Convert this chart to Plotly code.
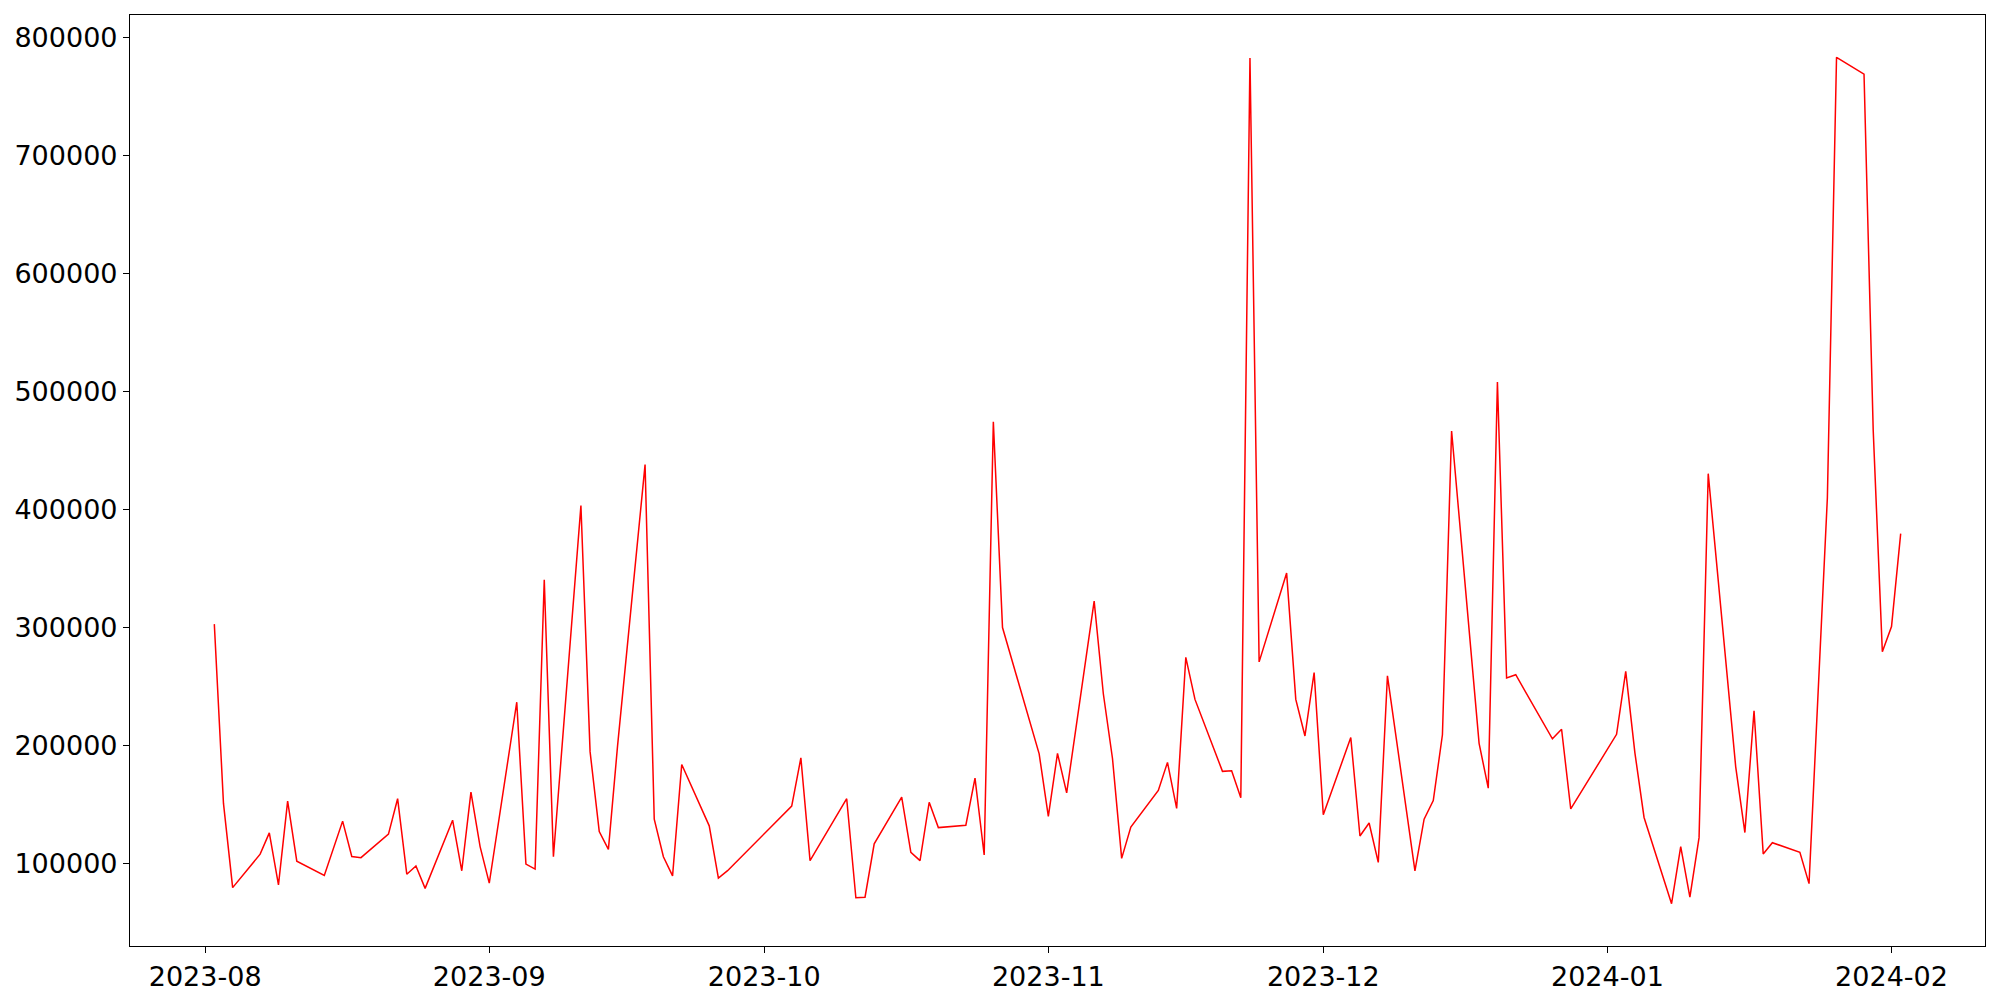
import plotly.graph_objects as go
import pandas as pd

dates = [
    "2023-08-02", "2023-08-03", "2023-08-04", "2023-08-07", "2023-08-08", "2023-08-09", "2023-08-10",
    "2023-08-11", "2023-08-14", "2023-08-16", "2023-08-17", "2023-08-18", "2023-08-21", "2023-08-22",
    "2023-08-23", "2023-08-24", "2023-08-25", "2023-08-28", "2023-08-29", "2023-08-30", "2023-08-31",
    "2023-09-01", "2023-09-04", "2023-09-05", "2023-09-06", "2023-09-07", "2023-09-08", "2023-09-11",
    "2023-09-12", "2023-09-13", "2023-09-14", "2023-09-15", "2023-09-18", "2023-09-19", "2023-09-20",
    "2023-09-21", "2023-09-22", "2023-09-25", "2023-09-26", "2023-09-27",
    "2023-10-04", "2023-10-05", "2023-10-06", "2023-10-10", "2023-10-11", "2023-10-12", "2023-10-13",
    "2023-10-16", "2023-10-17", "2023-10-18", "2023-10-19", "2023-10-20", "2023-10-23", "2023-10-24",
    "2023-10-25", "2023-10-26", "2023-10-27", "2023-10-30", "2023-10-31",
    "2023-11-01", "2023-11-02", "2023-11-03", "2023-11-06", "2023-11-07", "2023-11-08", "2023-11-09",
    "2023-11-10", "2023-11-13", "2023-11-14", "2023-11-15", "2023-11-16", "2023-11-17", "2023-11-20",
    "2023-11-21", "2023-11-22", "2023-11-23", "2023-11-24", "2023-11-27", "2023-11-28", "2023-11-29",
    "2023-11-30",
    "2023-12-01", "2023-12-04", "2023-12-05", "2023-12-06", "2023-12-07", "2023-12-08", "2023-12-11",
    "2023-12-12", "2023-12-13", "2023-12-14", "2023-12-15", "2023-12-18", "2023-12-19", "2023-12-20",
    "2023-12-21", "2023-12-22", "2023-12-26", "2023-12-27", "2023-12-28",
    "2024-01-02", "2024-01-03", "2024-01-04", "2024-01-05", "2024-01-08", "2024-01-09", "2024-01-10",
    "2024-01-11", "2024-01-12", "2024-01-15", "2024-01-16", "2024-01-17", "2024-01-18", "2024-01-19",
    "2024-01-22", "2024-01-23", "2024-01-24", "2024-01-25", "2024-01-26", "2024-01-29", "2024-01-30",
    "2024-01-31", "2024-02-01", "2024-02-02",
]

values = [
    303000, 151000, 79600, 108000, 126000, 82000, 153000,
    102000, 90000, 136000, 106000, 105000, 125000, 155000,
    91000, 98000, 79000, 136800, 93900, 160600, 114400,
    83400, 236800, 99600, 95300, 340600, 105800, 403500,
    194900, 127200, 112000, 200000, 438300, 137700, 105800,
    89600, 184000, 132000, 87700, 94000,
    148700, 189600, 102500, 155000, 71000, 71500, 116800,
    156300, 109600, 102500, 152000, 130500, 132500, 172500,
    107300, 474500, 300100, 220000, 193000,
    140000, 193400, 160000, 322500, 244000, 189100, 104400,
    131000, 162000, 185800, 146800, 274900, 239200, 178200,
    178700, 155800, 783000, 271000, 346300, 239200, 208200,
    262000,
    141500, 206800, 123400, 134400, 101000, 259200, 93900,
    137700, 153400, 209200, 466800, 202000, 163900, 508300,
    257300, 260100, 205800, 213900, 146300,
    209600, 263000, 193900, 139100, 66000, 114400, 71500,
    122000, 430600, 182000, 126300, 229600, 108200, 117700,
    109600, 83000, 245000, 410000, 783600, 769300, 467800,
    279600, 301000, 379700,
]

x_ticks = ["2023-08-01", "2023-09-01", "2023-10-01", "2023-11-01", "2023-12-01", "2024-01-01", "2024-02-01"]
x_tick_labels = ["2023-08", "2023-09", "2023-10", "2023-11", "2023-12", "2024-01", "2024-02"]
y_ticks = [100000, 200000, 300000, 400000, 500000, 600000, 700000, 800000]
y_tick_labels = [str(v) for v in y_ticks]

# matplotlib-like 5% margins
d = pd.to_datetime(dates)
span = d.max() - d.min()
x_range = [d.min() - span * 0.05, d.max() + span * 0.05]
vmin, vmax = min(values), max(values)
vspan = vmax - vmin
y_range = [vmin - 0.05 * vspan, vmax + 0.05 * vspan]

fig = go.Figure()
fig.add_trace(go.Scatter(
    x=dates, y=values, mode="lines",
    line=dict(color="red", width=1.5),
    showlegend=False, hoverinfo="x+y",
))

axis_common = dict(
    showgrid=False, zeroline=False, automargin=False,
    showline=True, linecolor="black", linewidth=1.2, mirror=True,
    ticks="outside", ticklen=6, tickwidth=1.2, tickcolor="black",
    tickfont=dict(family="DejaVu Sans", size=27, color="black"),
)

# page body has an 8px default margin, so the figure is sized to fit inside it
fig.update_layout(
    width=1992, height=992, autosize=False,
    margin=dict(l=122, r=15, t=7, b=54, pad=0),
    paper_bgcolor="white", plot_bgcolor="white",
    xaxis=dict(
        type="date", range=[x_range[0].isoformat(), x_range[1].isoformat()],
        tickmode="array", tickvals=x_ticks, ticktext=x_tick_labels,
        **axis_common,
    ),
    yaxis=dict(
        range=y_range,
        tickmode="array", tickvals=y_ticks, ticktext=y_tick_labels,
        **axis_common,
    ),
)

fig.write_html("out.html")
